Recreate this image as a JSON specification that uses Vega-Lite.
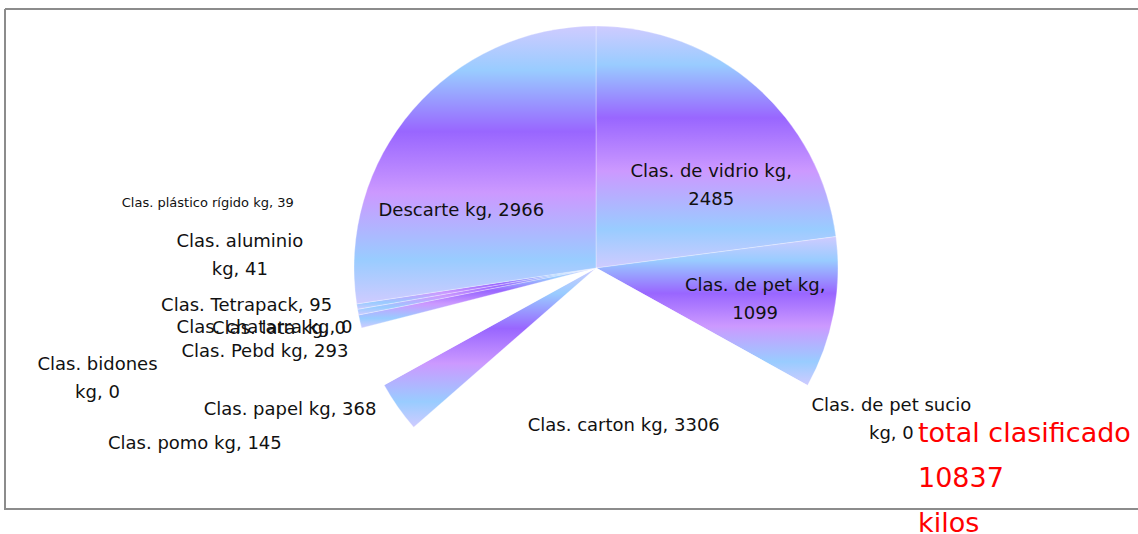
{
  "$schema": "https://vega.github.io/schema/vega-lite/v6.json",
  "width": 1133,
  "height": 500,
  "autosize": {"type": "none"},
  "padding": {"left": 5, "top": 9, "right": 0, "bottom": 25},
  "background": "white",
  "title": {
    "text": ["total clasificado", "10837", "kilos"],
    "orient": "top",
    "anchor": "start",
    "frame": "group",
    "align": "left",
    "baseline": "alphabetic",
    "dx": 913,
    "dy": 783,
    "offset": 0,
    "font": "DejaVu Sans",
    "fontSize": 27,
    "fontWeight": "normal",
    "color": "#ff0000",
    "lineHeight": 45
  },
  "config": {
    "view": {"stroke": null},
    "text": {"font": "DejaVu Sans", "fontSize": 18, "lineHeight": 28, "lineBreak": "\n", "align": "center", "baseline": "middle", "color": "#111111"}
  },
  "layer": [
    {
      "data": {
        "values": [
          {"n": 1, "cat": "Clas. de vidrio kg", "kg": 2485, "label": "Clas. de vidrio kg,\n2485"},
          {"n": 2, "cat": "Clas. de pet kg", "kg": 1099, "label": "Clas. de pet kg,\n1099"},
          {"n": 3, "cat": "Clas. de pet sucio kg", "kg": 0, "label": "Clas. de pet sucio\nkg, 0"},
          {"n": 4, "cat": "Clas. carton kg", "kg": 3306, "label": "Clas. carton kg, 3306"},
          {"n": 5, "cat": "Clas. papel kg", "kg": 368, "label": "Clas. papel kg, 368"},
          {"n": 6, "cat": "Clas. pomo kg", "kg": 145, "label": "Clas. pomo kg, 145"},
          {"n": 7, "cat": "Clas. bidones kg", "kg": 0, "label": "Clas. bidones\nkg, 0"},
          {"n": 8, "cat": "Clas. Pebd kg", "kg": 293, "label": "Clas. Pebd kg, 293"},
          {"n": 9, "cat": "Clas. chatarra kg", "kg": 0, "label": "Clas. chatarra kg, 0"},
          {"n": 10, "cat": "Clas. lata kg", "kg": 0, "label": "Clas. lata kg, 0"},
          {"n": 11, "cat": "Clas. Tetrapack", "kg": 95, "label": "Clas. Tetrapack, 95"},
          {"n": 12, "cat": "Clas. aluminio kg", "kg": 41, "label": "Clas. aluminio\nkg, 41"},
          {"n": 13, "cat": "Clas. plástico rígido kg", "kg": 39, "label": "Clas. plástico rígido kg, 39"},
          {"n": 14, "cat": "Descarte kg", "kg": 2966, "label": "Descarte kg, 2966"}
        ]
      },
      "encoding": {
        "theta": {"field": "kg", "type": "quantitative", "stack": true},
        "order": {"field": "n", "type": "quantitative"}
      },
      "layer": [
        {
          "mark": {"type": "arc", "outerRadius": 242, "stroke": "#ffffff", "strokeWidth": 0.3, "x": {"expr": "width/2+24.5"}, "y": {"expr": "height/2+9"}},
          "encoding": {
            "fill": {
              "condition": {"test": "indexof(['Clas. carton kg','Clas. pomo kg','Clas. Pebd kg'], datum.cat) >= 0", "value": "#ffffff"},
              "value": {"gradient": "linear", "x1": 0, "y1": 0, "x2": 0, "y2": 1, "stops": [
                {"offset": 0, "color": "#cfcbff"},
                {"offset": 0.16, "color": "#99ccff"},
                {"offset": 0.38, "color": "#9966ff"},
                {"offset": 0.6, "color": "#cc99ff"},
                {"offset": 0.84, "color": "#99ccff"},
                {"offset": 1, "color": "#cfcbff"}
              ]}
            }
          }
        },
        {"mark": {"type": "text", "x": {"expr": "width/2+24.5"}, "y": {"expr": "height/2+9"}, "radius": 139.5, "dx": -29, "dy": 34},
         "encoding": {"text": {"condition": {"test": "datum.cat === 'Descarte kg'", "field": "label", "type": "nominal"}, "value": ""}}},
        {"mark": {"type": "text", "x": {"expr": "width/2+24.5"}, "y": {"expr": "height/2+9"}, "radius": 138.3, "dx": 24, "dy": 8},
         "encoding": {"text": {"condition": {"test": "datum.cat === 'Clas. de vidrio kg'", "field": "label", "type": "nominal"}, "value": ""}}},
        {"mark": {"type": "text", "x": {"expr": "width/2+24.5"}, "y": {"expr": "height/2+9"}, "radius": 162, "dx": 0, "dy": -12},
         "encoding": {"text": {"condition": {"test": "datum.cat === 'Clas. de pet kg'", "field": "label", "type": "nominal"}, "value": ""}}},
        {"mark": {"type": "text", "x": {"expr": "width/2+24.5"}, "y": {"expr": "height/2+9"}, "radius": 160, "dx": 11, "dy": -1},
         "encoding": {"text": {"condition": {"test": "datum.cat === 'Clas. carton kg'", "field": "label", "type": "nominal"}, "value": ""}}},
        {"mark": {"type": "text", "x": {"expr": "width/2+24.5"}, "y": {"expr": "height/2+9"}, "radius": 331, "dx": 6, "dy": -23},
         "encoding": {"text": {"condition": {"test": "datum.cat === 'Clas. de pet sucio kg'", "field": "label", "type": "nominal"}, "value": ""}}},
        {"mark": {"type": "text", "x": {"expr": "width/2+24.5"}, "y": {"expr": "height/2+9"}, "radius": 373, "dx": -20, "dy": -124.5, "fontSize": 13},
         "encoding": {"text": {"condition": {"test": "datum.cat === 'Clas. plástico rígido kg'", "field": "label", "type": "nominal"}, "value": ""}}},
        {"mark": {"type": "text", "x": {"expr": "width/2+24.5"}, "y": {"expr": "height/2+9"}, "radius": 348, "dx": -14, "dy": -89},
         "encoding": {"text": {"condition": {"test": "datum.cat === 'Clas. aluminio kg'", "field": "label", "type": "nominal"}, "value": ""}}},
        {"mark": {"type": "text", "x": {"expr": "width/2+24.5"}, "y": {"expr": "height/2+9"}, "radius": 349, "dx": -9, "dy": -39},
         "encoding": {"text": {"condition": {"test": "datum.cat === 'Clas. Tetrapack'", "field": "label", "type": "nominal"}, "value": ""}}},
        {"mark": {"type": "text", "x": {"expr": "width/2+24.5"}, "y": {"expr": "height/2+9"}, "radius": 336, "dx": -6, "dy": -23},
         "encoding": {"text": {"condition": {"test": "datum.cat === 'Clas. chatarra kg'", "field": "label", "type": "nominal"}, "value": ""}}},
        {"mark": {"type": "text", "x": {"expr": "width/2+24.5"}, "y": {"expr": "height/2+9"}, "radius": 322, "dx": -5, "dy": -19},
         "encoding": {"text": {"condition": {"test": "datum.cat === 'Clas. lata kg'", "field": "label", "type": "nominal"}, "value": ""}}},
        {"mark": {"type": "text", "x": {"expr": "width/2+24.5"}, "y": {"expr": "height/2+9"}, "radius": 340, "dx": -10, "dy": -28},
         "encoding": {"text": {"condition": {"test": "datum.cat === 'Clas. Pebd kg'", "field": "label", "type": "nominal"}, "value": ""}}},
        {"mark": {"type": "text", "x": {"expr": "width/2+24.5"}, "y": {"expr": "height/2+9"}, "radius": 500, "dx": -42, "dy": -107},
         "encoding": {"text": {"condition": {"test": "datum.cat === 'Clas. bidones kg'", "field": "label", "type": "nominal"}, "value": ""}}},
        {"mark": {"type": "text", "x": {"expr": "width/2+24.5"}, "y": {"expr": "height/2+9"}, "radius": 332, "dx": -34, "dy": -48},
         "encoding": {"text": {"condition": {"test": "datum.cat === 'Clas. papel kg'", "field": "label", "type": "nominal"}, "value": ""}}},
        {"mark": {"type": "text", "x": {"expr": "width/2+24.5"}, "y": {"expr": "height/2+9"}, "radius": 437, "dx": -10, "dy": -19},
         "encoding": {"text": {"condition": {"test": "datum.cat === 'Clas. pomo kg'", "field": "label", "type": "nominal"}, "value": ""}}}
      ]
    },
    {
      "data": {"values": [{}]},
      "mark": {"type": "rect", "filled": false, "stroke": "#8c8c8c", "strokeWidth": 2, "strokeDash": [1133, 500, 1633, 0]},
      "encoding": {}
    }
  ]
}
